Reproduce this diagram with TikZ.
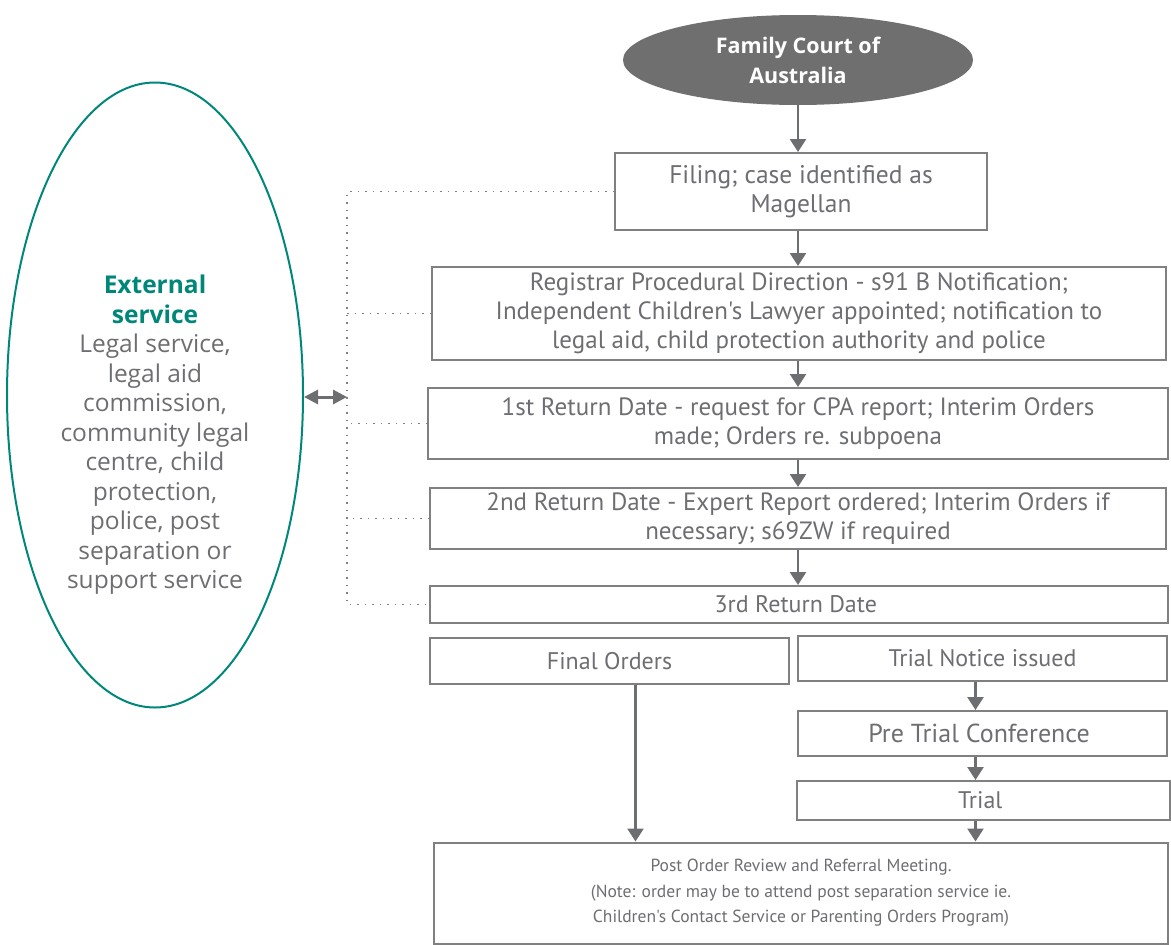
\documentclass[tikz,border=0pt]{standalone}
\usepackage{fontspec}
\setmainfont{PT Sans}[Ligatures=TeXOff]
\newfontfamily\extfont{Open Sans}
\usepackage{tikz}
\usetikzlibrary{shapes,arrows.meta}
\definecolor{boxgray}{HTML}{808080}
\definecolor{textgray}{HTML}{6D6E71}
\definecolor{courtgray}{HTML}{6F6F70}
\definecolor{extteal}{HTML}{00877A}
\tikzset{
  stagebox/.style={draw=boxgray,line width=2pt,rectangle,inner sep=0pt,align=center,
    text=textgray,font=\fontsize{24}{29}\selectfont},
  widebox/.style={stagebox,font=\fontsize{25}{29}\selectfont},
  flow/.style={draw=textgray,line width=2.6pt,-{Triangle[length=13pt,width=16pt]}},
  linkdots/.style={draw=boxgray,line width=1.6pt,dash pattern=on 1.5pt off 6pt},
}

\begin{document}
\begin{tikzpicture}[x=1pt,y=-1pt]
    \useasboundingbox (0,0) rectangle (1171,945);
    % main column
    \node [ellipse,fill=courtgray,minimum width=350pt,minimum height=90pt,inner sep=0pt,
      align=center,text=white,font=\extfont\fontsize{21.5}{30}\selectfont\bfseries] (court) at (798,60) {
      Family Court of\\Australia
    };
    \node [stagebox,below of=court,node distance=131.5pt,xshift=3pt,minimum width=372pt,minimum height=77pt,
      font=\fontsize{25.5}{29}\selectfont] (filing) {
      Filing; case identified as\\Magellan
    };
    \node [widebox,below of=filing,node distance=122pt,xshift=-2pt,minimum width=734pt,minimum height=93pt] (registrar) {
      Registrar Procedural Direction - s91 B Notification;\\
      Independent Children's Lawyer appointed; notification to\\
      legal aid, child protection authority and police
    };
    \node [widebox,below of=registrar,node distance=110pt,xshift=-1pt,minimum width=740pt,minimum height=71pt] (first) {
      1st Return Date - request for CPA report; Interim Orders\\
      made; Orders re. subpoena
    };
    \node [widebox,below of=first,node distance=95pt,minimum width=736pt,minimum height=61pt] (second) {
      2nd Return Date - Expert Report ordered; Interim Orders if\\
      necessary; s69ZW if required
    };
    \node [stagebox,below of=second,node distance=86pt,xshift=1pt,minimum width=738pt,minimum height=37pt] (third) {
      3rd Return Date
    };
    % outcomes
    \node [stagebox,minimum width=359pt,minimum height=46pt] (final) at (609.5,661) {Final Orders};
    \node [stagebox,minimum width=369pt,minimum height=45pt] (notice) at (982.5,658.5) {Trial Notice issued};
    \node [stagebox,below of=notice,node distance=75pt,minimum width=369pt,minimum height=45pt,
      font=\fontsize{26}{29}\selectfont] (pretrial) {
      Pre Trial Conference
    };
    \node [stagebox,below of=pretrial,node distance=67pt,xshift=1pt,minimum width=373pt,minimum height=39pt] (trial) {
      Trial
    };
    \node [stagebox,minimum width=734pt,minimum height=101pt,font=\fontsize{17.5}{25.5}\selectfont] (post) at (801,893) {
      Post Order Review and Referral Meeting.\\
      (Note: order may be to attend post separation service ie.\\
      Children's Contact Service or Parenting Orders Program)
    };
    % external service
    \node [ellipse,draw=extteal,line width=2pt,minimum width=296pt,minimum height=625pt,inner sep=0pt] (ext) at (155,395) {};
    \node [align=center,text=textgray,font=\extfont\fontsize{24.5}{29.5}\selectfont] (exttext) at (155,435) {
      {\color{extteal}\bfseries External}\\{\color{extteal}\bfseries service}\\
      Legal service,\\legal aid\\commission,\\community legal\\centre, child\\
      protection,\\police, post\\separation or\\support service
    };
    \coordinate (bus) at (347,397);

    \draw [flow] (court.south) -- (court.south |- filing.north);
    \draw [flow] (filing.south -| court) -- (court |- registrar.north);
    \draw [flow] (registrar.south -| court) -- (court |- first.north);
    \draw [flow] (first.south -| court) -- (court |- second.north);
    \draw [flow] (second.south -| court) -- (court |- third.north);
    \draw [flow] ([xshift=-7pt]notice.south) -- ([xshift=-7pt]notice.south |- pretrial.north);
    \draw [flow] ([xshift=-7pt]pretrial.south) -- ([xshift=-7pt]pretrial.south |- trial.north);
    \draw [flow] ([xshift=-8pt]trial.south) -- ([xshift=-8pt]trial.south |- post.north);
    \draw [flow] ([xshift=26pt]final.south) -- ([xshift=26pt]final.south |- post.north);

    \draw [linkdots] (filing.west) -| (bus) |- (third.west);
    \draw [linkdots] (registrar.west) -- (registrar.west -| bus);
    \draw [linkdots] (first.west) -- (first.west -| bus);
    \draw [linkdots] (second.west) -- (second.west -| bus);
    \draw [draw=textgray,line width=3pt,{Triangle[length=14pt,width=14pt]}-{Triangle[length=14pt,width=14pt]}] (ext.east |- bus) -- (bus);
  \end{tikzpicture}
\end{document}
